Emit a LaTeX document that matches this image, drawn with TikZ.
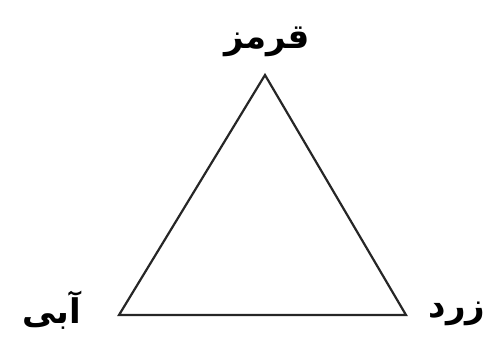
\documentclass[tikz,border=0pt]{standalone}
\usepackage{fontspec}
\TeXXeTstate=1
\newfontfamily\arabicfont[Script=Arabic]{DejaVu Sans}
\begin{document}
\begin{tikzpicture}[x=1pt,y=-1pt,
  lbl/.style={font=\arabicfont\bfseries\fontsize{34}{38}\selectfont, inner sep=0pt},
  edge/.style={draw=black!85, line width=2.2pt, line join=miter}]
\useasboundingbox (0,0) rectangle (504,345);
\coordinate (top) at (265,75);
\coordinate (left) at (119,315);
\coordinate (right) at (406,315);
\draw[edge] (top) -- (left) -- (right) -- cycle;
\node[lbl] (red) at (267,42) {\beginR قرمز\endR};
\node[lbl] (blue) at (52,310) {\beginR آبی\endR};
\node[lbl] (yellow) at (457,314) {\beginR زرد\endR};
\end{tikzpicture}
\end{document}
